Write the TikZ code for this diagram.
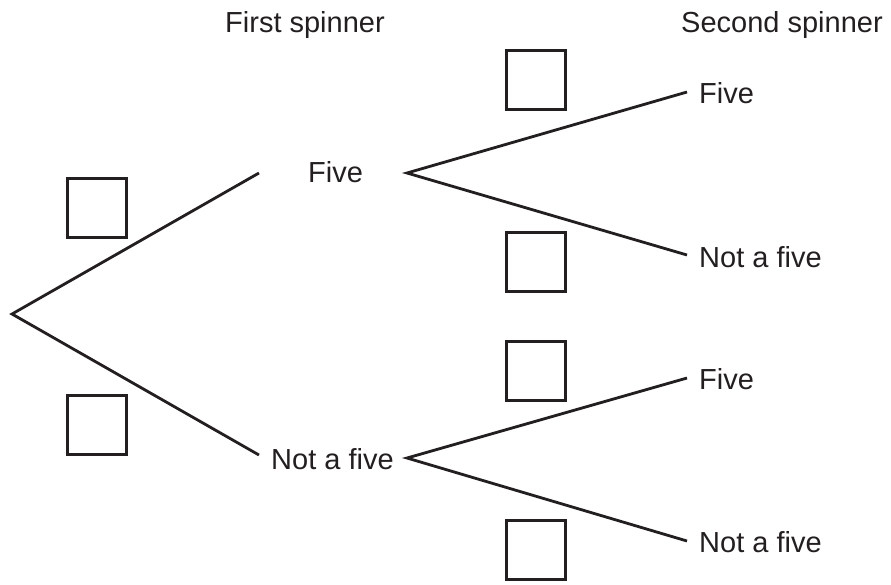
\documentclass[tikz,border=0pt]{standalone}
\usepackage{fontspec}
\setmainfont{Liberation Sans}
\definecolor{ink}{RGB}{35,31,32}
\begin{document}
\begin{tikzpicture}[x=1pt,y=-1pt,
  lbl/.style={anchor=base west,inner sep=0pt,text=ink,font=\fontsize{29}{33}\selectfont},
  ansbox/.style={draw=ink,line width=2.8pt,minimum size=59pt,inner sep=0pt},
  branch/.style={draw=ink,line width=2.8pt,line cap=butt,line join=miter}]
\useasboundingbox (0,0) rectangle (891,584);
% headings
\node[lbl] (h1) at (225,32) {First spinner};
\node[lbl] (h2) at (681,32) {Second spinner};
% labels
\node[lbl] (f1) at (308,182) {Five};
\node[lbl] (n1) at (271,469) {Not a five};
\node[lbl] (f2a) at (699,103) {Five};
\node[lbl] (n2a) at (699,267) {Not a five};
\node[lbl] (f2b) at (699,389) {Five};
\node[lbl] (n2b) at (699,552) {Not a five};
% boxes
\node[ansbox] (bx1) at (97,208) {};
\node[ansbox] (bx2) at (97,425) {};
\node[ansbox] (bx3) at (536,80) {};
\node[ansbox] (bx4) at (536,262) {};
\node[ansbox] (bx5) at (536,371) {};
\node[ansbox] (bx6) at (536,550) {};
% branch points
\coordinate (root) at (12,314);
\coordinate (a1) at (259,173);
\coordinate (a2) at (259,455);
\coordinate (b1) at (407,173);
\coordinate (b2) at (407,458);
\coordinate (c1) at (687,92);
\coordinate (c2) at (687,255);
\coordinate (c3) at (687,378);
\coordinate (c4) at (687,541);
% branches
\draw[branch] (a1) -- (root) -- (a2);
\draw[branch] (c1) -- (b1) -- (c2);
\draw[branch] (c3) -- (b2) -- (c4);
\end{tikzpicture}
\end{document}
